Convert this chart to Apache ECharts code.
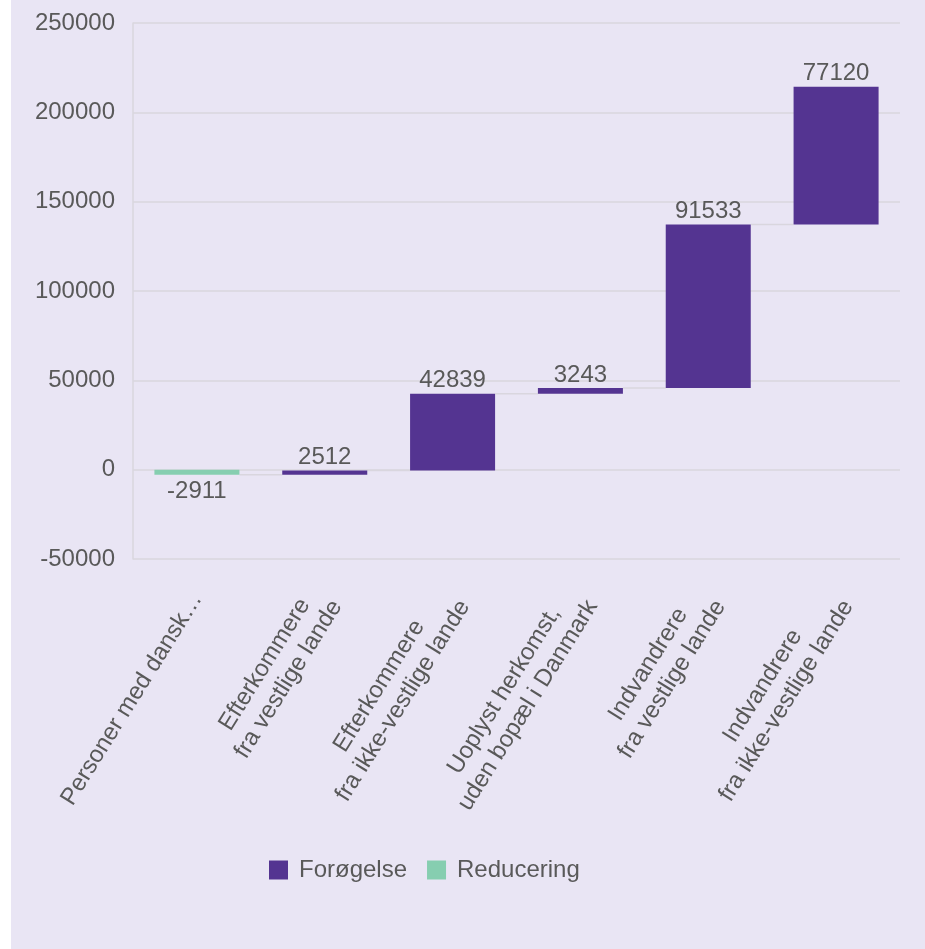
<!DOCTYPE html>
<html>
<head>
<meta charset="utf-8">
<script src="https://cdn.jsdelivr.net/npm/echarts@6/dist/echarts.min.js"></script>
<style>
  html, body { margin: 0; padding: 0; background: #ffffff; }
  #chart { position: absolute; left: 11px; top: 0; width: 914px; height: 949px; background: #E9E5F4; }
</style>
</head>
<body>
<div id="chart"></div>
<script>
const categories = [
  'Personer med dansk…',
  'Efterkommere\nfra vestlige lande',
  'Efterkommere\nfra ikke-vestlige lande',
  'Uoplyst herkomst,\nuden bopæl i Danmark',
  'Indvandrere\nfra vestlige lande',
  'Indvandrere\nfra ikke-vestlige lande'
];
const changes = [-2911, 2512, 42839, 3243, 91533, 77120];
const yMin = -50000;
const yMax = 250000;
const yStep = 50000;
const legendNames = ['Forøgelse', 'Reducering'];

// derived waterfall pieces
const starts = [];
const ends = [];
let run = 0;
changes.forEach(function (c) { starts.push(run); run += c; ends.push(run); });
const increases = changes.map(function (c) { return c > 0 ? c : 0; });
const decreases = changes.map(function (c) { return c < 0 ? c : 0; });
const connectors = ends.slice(0, ends.length - 1).map(function (v, i) { return [i, v]; });

const TEXT = '#595959';
const GRID = '#D9D6DE';
const PURPLE = '#543491';
const GREEN = '#86CEB0';
const BAR_RATIO = 0.665;

function labelFmt(p) { return p.value === 0 ? '' : String(p.value); }

const chart = echarts.init(document.getElementById('chart'), null, { renderer: 'canvas' });
chart.setOption({
  backgroundColor: 'transparent',
  animation: false,
  textStyle: { fontFamily: 'Liberation Sans, Arial, sans-serif' },
  grid: { left: 122, right: 25, top: 23, bottom: 390, containLabel: false },
  legend: {
    data: legendNames,
    left: 253,
    top: 853,
    itemWidth: 19,
    itemHeight: 19,
    itemGap: 20,
    icon: 'rect',
    textStyle: { fontSize: 24, color: TEXT, padding: [0, 0, 0, 6] }
  },
  xAxis: {
    type: 'category',
    data: categories,
    axisLine: { show: false },
    axisTick: { show: false },
    splitLine: { show: false },
    axisLabel: {
      interval: 0,
      rotate: 58,
      margin: 36,
      fontSize: 24,
      lineHeight: 28,
      color: TEXT,
      formatter: function (v) {
        return v.split('\n').map(function (l) { return '{c|' + l + '}'; }).join('\n');
      },
      rich: { c: { align: 'center', fontSize: 24, lineHeight: 28, color: TEXT } }
    }
  },
  yAxis: {
    type: 'value',
    min: yMin,
    max: yMax,
    interval: yStep,
    axisLine: { show: true, lineStyle: { color: GRID, width: 1.5 } },
    axisTick: { show: false },
    splitLine: { show: true, lineStyle: { color: GRID, width: 1.5 } },
    axisLabel: { fontSize: 24, color: TEXT, margin: 18, formatter: function (v) { return String(v); } }
  },
  series: [
    {
      name: 'base',
      type: 'bar',
      stack: 'wf',
      stackStrategy: 'all',
      barWidth: (BAR_RATIO * 100) + '%',
      silent: true,
      itemStyle: { color: 'transparent' },
      emphasis: { disabled: true },
      data: starts
    },
    {
      name: legendNames[0],
      type: 'bar',
      stack: 'wf',
      stackStrategy: 'all',
      barWidth: (BAR_RATIO * 100) + '%',
      itemStyle: { color: PURPLE },
      label: { show: true, position: 'top', distance: 1, fontSize: 24, color: TEXT, formatter: labelFmt },
      data: increases
    },
    {
      name: legendNames[1],
      type: 'bar',
      stack: 'wf',
      stackStrategy: 'all',
      barWidth: (BAR_RATIO * 100) + '%',
      itemStyle: { color: GREEN },
      label: { show: true, position: 'bottom', distance: 5, fontSize: 24, color: TEXT, formatter: labelFmt },
      data: decreases
    },
    {
      name: 'connector',
      type: 'custom',
      silent: true,
      z: 1,
      encode: { x: 0, y: 1 },
      renderItem: function (params, api) {
        const p = api.coord([api.value(0), api.value(1)]);
        const w = api.size([1, 0])[0];
        const bw = w * BAR_RATIO;
        return {
          type: 'line',
          shape: { x1: p[0] + bw / 2, y1: p[1], x2: p[0] + w - bw / 2, y2: p[1] },
          style: { stroke: GRID, lineWidth: 1.5 }
        };
      },
      data: connectors
    }
  ]
});
</script>
</body>
</html>
